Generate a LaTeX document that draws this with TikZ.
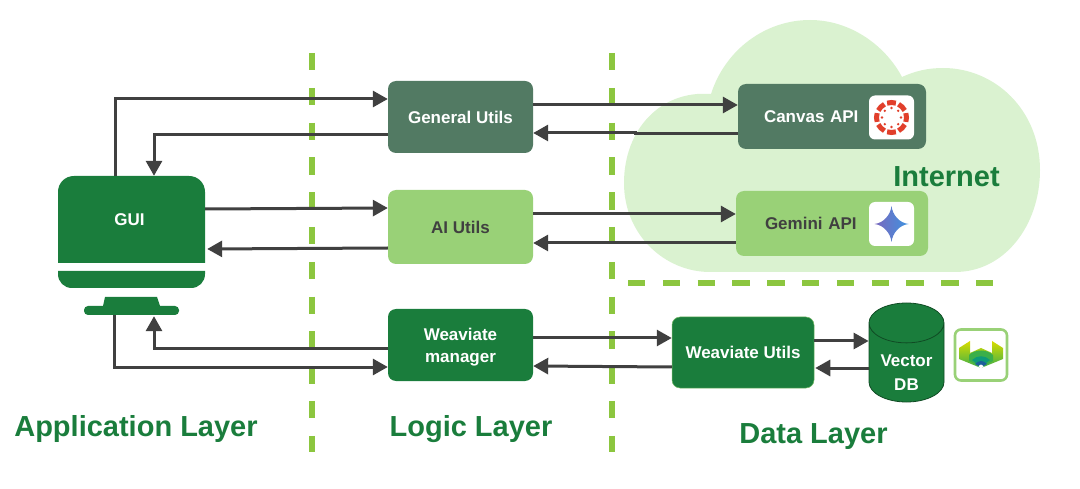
\documentclass[tikz,border=0pt]{standalone}
\usepackage{fontspec}
\setmainfont{Liberation Sans}
\usetikzlibrary{positioning,shapes.geometric,arrows.meta}
\definecolor{deepgreen}{HTML}{1A7D3C}
\definecolor{sagegreen}{HTML}{527A63}
\definecolor{softgreen}{HTML}{99D177}
\definecolor{cloudgreen}{HTML}{DAF2D0}
\definecolor{dashgreen}{HTML}{8CC63F}
\definecolor{flowgrey}{HTML}{404040}
\definecolor{canvasred}{HTML}{E13F2B}
\definecolor{geminiviolet}{HTML}{7A68BE}
\definecolor{geminiblue}{HTML}{3F93E0}
\definecolor{wvyellow}{HTML}{D8DC00}
\definecolor{wvgreen}{HTML}{3BAF4A}
\definecolor{wvteal}{HTML}{0E9A78}
\definecolor{wvblue}{HTML}{1C5F9A}
\tikzset{
  utilbox/.style={rectangle,rounded corners=8pt,minimum width=145pt,minimum height=72pt,align=center,font=\bfseries\fontsize{17}{22}\selectfont},
  darkbox/.style={utilbox,fill=deepgreen,text=white},
  sagebox/.style={utilbox,fill=sagegreen,text=white},
  softbox/.style={utilbox,fill=softgreen,text=flowgrey},
  flow/.style={-{Triangle[length=15pt,width=16pt]},draw=flowgrey,line width=3pt},
  layerdash/.style={draw=dashgreen,line width=5.5pt,dash pattern=on 17.4pt off 17.4pt},
  layerlabel/.style={text=deepgreen,font=\bfseries\fontsize{29}{32}\selectfont},
  iconbox/.style={rectangle,fill=white,rounded corners=6pt,minimum width=45pt,minimum height=44pt},
}
\begin{document}
\begin{tikzpicture}[x=1pt,y=-1pt,>=Stealth]
\useasboundingbox (0,0) rectangle (1080,489);
% cloud
\fill[cloudgreen] (711,94) .. controls (660,90) and (624,130) .. (624,183)
  .. controls (624,235) and (665,272) .. (710,272) -- (955,272)
  .. controls (1005,272) and (1040,225) .. (1040,170)
  .. controls (1040,110) and (995,68) .. (943,68)
  .. controls (928,68) and (915,71) .. (902,77)
  .. controls (885,45) and (850,20) .. (810,20)
  .. controls (765,20) and (725,50) .. (711,94) -- cycle;
% layer borders
\draw[layerdash] (312,53) -- (312,452);
\draw[layerdash] (612,53) -- (612,452);
\draw[layerdash] (628,283) -- (994,283);
% monitor
\fill[deepgreen] (58,263) -- (58,192) .. controls (58,183) and (65,176) .. (74,176) -- (189,176)
  .. controls (198,176) and (205,183) .. (205,192) -- (205,263) -- cycle;
\fill[deepgreen] (58,271) -- (205,271) -- (205,274) .. controls (205,282) and (199,288) .. (191,288)
  -- (72,288) .. controls (64,288) and (58,282) .. (58,274) -- cycle;
\fill[deepgreen] (105,297) -- (157,297) -- (160,306) -- (103,306) -- cycle;
\node[rectangle,rounded corners=4pt,fill=deepgreen,minimum width=95pt,minimum height=9pt,inner sep=0pt] (stand) at (131.5,310.5) {};
\node[rectangle,minimum width=147pt,minimum height=87pt,text=white,font=\bfseries\fontsize{17}{22}\selectfont] (gui) at (131.5,219.5) {\hspace*{-4pt}GUI};
% logic layer
\node[sagebox] (general) at (460.5,117) {General Utils};
\node[softbox,minimum height=74pt] (aiutils) at (460.5,227) {AI Utils};
\node[darkbox] (manager) at (460.5,345) {\rule{0pt}{16.5pt}Weaviate\\manager};
% data layer
\node[sagebox,minimum width=188pt,minimum height=65pt,text width=170pt,align=left] (canvas) at (832,116.5) {\hspace*{17pt}Canvas API};
\node[softbox,minimum width=192pt,minimum height=65pt,text width=174pt,align=left] (gemini) at (832,223.5) {\hspace*{20pt}Gemini API};
\node[darkbox,minimum width=142pt,minimum height=71pt,draw=softgreen!70!deepgreen,line width=.5pt] (wvutils) at (743,352.5) {Weaviate Utils};
\node[cylinder,shape border rotate=90,aspect=.68,anchor=shape center,draw=deepgreen!60!black,line width=.8pt,fill=deepgreen,minimum width=75pt,minimum height=99pt,align=center,font=\bfseries\fontsize{17}{24}\selectfont] (vectordb) at (906.5,352.5) {\phantom{Vector}\\\phantom{DB}};
\node[align=center,text=white,font=\bfseries\fontsize{17}{24}\selectfont] (vectortext) at (906.5,373) {Vector\\DB};
% icons
\node[iconbox] (canvasicon) at (891.5,117.5) {};
\foreach \a in {0,45,...,315} {
  \draw[canvasred,line width=5pt] (canvasicon.center) ++(\a-17:15) arc[start angle=\a-17,end angle=\a+17,radius=15];
  \fill[canvasred] (canvasicon.center) ++(\a:9.5) circle (1.3);
}
\node[iconbox] (geminiicon) at (891.5,224) {};
\shade[left color=geminiviolet,right color=geminiblue] (geminiicon.center) ++(-17,0)
  .. controls +(9,-1) and +(-1,9) .. ++(17,-18)
  .. controls +(1,9) and +(-9,-1) .. ++(17,18)
  .. controls +(-9,1) and +(1,-9) .. ++(-17,18)
  .. controls +(-1,-9) and +(9,1) .. ++(-17,-18) -- cycle;
\node[rectangle,draw=softgreen,line width=2.6pt,fill=white,rounded corners=6pt,minimum width=52pt,minimum height=51pt] (wvicon) at (981,355) {};
\begin{scope}[shift={(wvicon.center)}]
\shade[top color=wvyellow,bottom color=wvgreen] (-22,-7) -- (-11,-14) -- (-11,-2) -- (0,-7) -- (11,-2) -- (11,-14) -- (22,-7) -- (22,4) -- (0,13) -- (-22,4) -- cycle;
\fill[wvgreen] (-12,0) .. controls (-6,-6) and (6,-6) .. (12,0) -- (12,6) -- (0,12) -- (-12,6) -- cycle;
\fill[wvteal] (-9,5) .. controls (-4,0) and (4,0) .. (9,5) -- (0,12) -- cycle;
\fill[wvblue] (-6,9) .. controls (-2,5) and (2,5) .. (6,9) -- (0,12.5) -- cycle;
\fill[white] (-2.5,11.5) .. controls (-1,9) and (1,9) .. (2.5,11.5) -- (0,13.5) -- cycle;
\end{scope}
% connectors
\draw[flow] ([xshift=-16.5pt]gui.north) |- ([yshift=18pt]general.west);
\draw[flow] ([yshift=-18pt]general.west) -| ([xshift=22.5pt]gui.north);
\draw[flow] ([yshift=10.5pt]gui.east) -- ([yshift=19pt]aiutils.west);
\draw[flow] ([yshift=-21pt]aiutils.west) -- ([xshift=2pt,yshift=-29.5pt]gui.east);
\draw[flow] ([xshift=-17.5pt]stand.south) |- ([yshift=-22pt]manager.west);
\draw[flow] ([yshift=-4pt]manager.west) -| ([xshift=22.5pt,yshift=-1pt]stand.south);
\draw[flow] ([yshift=12pt]general.east) -- ([yshift=11.5pt]canvas.west);
\draw[flow] ([yshift=-17.5pt]canvas.west) -- ++(-102,0) -- ++(0,-1) -- ([yshift=-16pt]general.east);
\draw[flow] ([yshift=13pt]aiutils.east) -- ([yshift=9.5pt]gemini.west);
\draw[flow] ([yshift=-19.5pt]gemini.west) -- ([yshift=-16pt]aiutils.east);
\draw[flow] ([yshift=7pt]manager.east) -- ([yshift=14.5pt]wvutils.west);
\draw[flow] ([yshift=-14.5pt]wvutils.west) -- ([yshift=-21pt]manager.east);
\draw[flow] ([yshift=11.5pt]wvutils.east) -- ([yshift=11.5pt]wvutils.east -| vectordb.west);
\draw[flow] ([yshift=-15.5pt]wvutils.east -| vectordb.west) -- ([yshift=-15.5pt,xshift=1pt]wvutils.east);
% layer names
\node[layerlabel] (applayer) at (136,429) {Application Layer};
\node[layerlabel] (logiclayer) at (471,429) {Logic Layer};
\node[layerlabel] (datalayer) at (813.5,437) {Data Layer};
\node[layerlabel] (internet) at (946.5,177) {Internet};
\end{tikzpicture}
\end{document}
